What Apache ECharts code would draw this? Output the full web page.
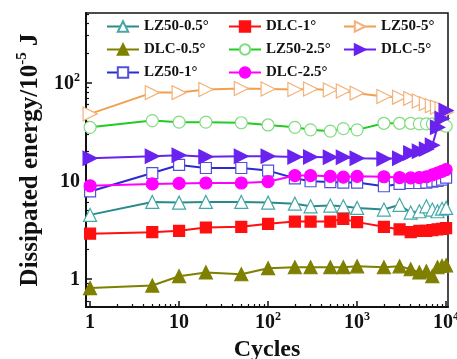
<!DOCTYPE html>
<html><head><meta charset="utf-8">
<script src="https://cdn.jsdelivr.net/npm/echarts@6/dist/echarts.min.js"></script>
<style>html,body{margin:0;padding:0;background:#fff}#c{width:457px;height:359px}</style>
</head><body><div id="c"></div>
<script>
var cycles = [1,5,10,20,50,100,200,300,500,700,1000,2000,3000,4000,5000,6000,7000,8000,9000,10000];
var names = ['LZ50-0.5°','DLC-0.5°','LZ50-1°','DLC-1°','LZ50-2.5°','DLC-2.5°','LZ50-5°','DLC-5°'];
var lz05 = [4.5,6.1,6.0,6.1,6.1,6.0,5.85,5.5,5.6,5.5,5.3,5.1,5.7,4.75,4.9,5.5,5.1,4.9,5.2,5.3];
var dlc05 = [0.81,0.86,1.07,1.17,1.12,1.29,1.32,1.32,1.32,1.32,1.35,1.32,1.35,1.26,1.17,1.2,1.07,1.32,1.36,1.38];
var lz1 = [7.8,12,14.5,13.5,13.5,12.7,10.6,9.9,9.7,9.6,9.6,8.8,9.3,9.5,9.5,9.6,9.8,10,10.3,10.8];
var dlc1 = [2.9,3.0,3.1,3.35,3.4,3.65,3.85,3.85,3.85,4.1,3.8,3.4,3.2,3.0,3.1,3.1,3.15,3.2,3.25,3.3];
var lz25 = [35,41,39.5,39.5,39,37,35,33,32,34,33,38.5,38.5,38.5,38,38,38,37.5,37,36];
var dlc25 = [8.9,9.3,9.4,9.5,9.5,9.8,11.3,11.3,11.1,10.9,11.1,11.0,10.8,10.7,10.8,11,11.5,12,12.5,13];
var lz5 = [48,79,79,85,87,86,85,86,84,82,78,72,71,69,65,61,58,56,54,50];
var dlc5 = [17,17.8,18.2,17.6,17.8,17.8,17.5,17.5,17.4,17.4,17,16.8,17,19.2,20,21,23,35,43,52];
var xMajor = [1,10,100,1000,10000];
var yMajor = [1,10,100];

function pairs(v){ return cycles.map(function(c,i){ return [c, v[i]]; }); }
function minorList(lo, hi){
  var out = [];
  for (var e = -1; e <= 4; e++) for (var m = 2; m <= 9; m++) {
    var v = m * Math.pow(10, e); if (v > lo && v < hi) out.push(v);
  }
  return out;
}
var F = "'Liberation Serif','Times New Roman',serif";
var rich = {
  n: {fontSize: 20, fontWeight: 'bold', fontFamily: F, color: '#111', lineHeight: 22, verticalAlign: 'bottom'},
  s: {fontSize: 12, fontWeight: 'bold', fontFamily: F, color: '#111', lineHeight: 12, verticalAlign: 'top'}
};
function powLabel(v){
  var e = Math.round(Math.log10(v));
  if (e === 0) return '{n|1}';
  if (e === 1) return '{n|10}';
  return '{n|10}{s|' + e + '}';
}
var XMIN = 0.9, XMAX = 10500, YMIN = 0.52, YMAX = 510;
var styles = [
  {d: lz05, sym: 'triangle', rot: 0, line: '#2a8a8a', fill: '#ffffff', border: '#45a8a8', size: 13},
  {d: dlc05, sym: 'triangle', rot: 0, line: '#7f7f00', fill: '#7f7f00', border: '#7f7f00', size: 13},
  {d: lz1, sym: 'rect', rot: 0, line: '#2b2bd0', fill: '#ffffff', border: '#5050d8', size: 11},
  {d: dlc1, sym: 'rect', rot: 0, line: '#ff1010', fill: '#ff1010', border: '#ff1010', size: 11},
  {d: lz25, sym: 'circle', rot: 0, line: '#22cc22', fill: '#ffffff', border: '#80dd80', size: 12},
  {d: dlc25, sym: 'circle', rot: 0, line: '#ff00ff', fill: '#ff00ff', border: '#ff00ff', size: 12},
  {d: lz5, sym: 'triangle', rot: -90, line: '#f0a050', fill: '#ffffff', border: '#f3b27a', size: 14},
  {d: dlc5, sym: 'triangle', rot: -90, line: '#6a22ee', fill: '#6a22ee', border: '#6a22ee', size: 14}
];
var series = styles.map(function(s, i){
  return {
    name: names[i], type: 'line', data: pairs(s.d), xAxisIndex: 0, yAxisIndex: 0,
    symbol: s.sym, symbolSize: s.size, symbolRotate: s.rot, showAllSymbol: true,
    lineStyle: {color: s.line, width: 2},
    itemStyle: {color: s.fill, borderColor: s.border, borderWidth: 1.2},
    emphasis: {disabled: true}
  };
});
var legendText = {fontSize: 15, fontWeight: 'bold', fontFamily: F, color: '#111'};
function legend(left, data){
  return {left: left, top: 19, orient: 'vertical', itemGap: 8, itemWidth: 32, itemHeight: 13,
    data: data, textStyle: legendText, selectedMode: false, padding: 0};
}
var axisLineStyle = {color: '#111', width: 2};
var option = {
  animation: false,
  grid: {left: 86, right: 9, top: 13, bottom: 52, show: true, borderColor: '#111', borderWidth: 1.5,
         backgroundColor: 'transparent', outerBoundsMode: 'none', containLabel: false},
  legend: [legend(106, names.slice(0,3)), legend(228, names.slice(3,6)), legend(343, names.slice(6,8))],
  xAxis: [
    {type: 'log', logBase: 10, min: XMIN, max: XMAX, position: 'bottom',
     name: 'Cycles', nameLocation: 'middle', nameGap: 31,
     nameTextStyle: {fontSize: 24, fontWeight: 'bold', fontFamily: F, color: '#111'},
     axisLine: {show: true, lineStyle: axisLineStyle},
     axisTick: {show: true, inside: true, length: 6, lineStyle: {color: '#111', width: 1.5}, customValues: xMajor},
     axisLabel: {customValues: xMajor, formatter: powLabel, rich: rich, margin: 4},
     splitLine: {show: false}, minorTick: {show: false}},
    {type: 'log', logBase: 10, min: XMIN, max: XMAX, position: 'bottom', gridIndex: 0,
     axisLine: {show: false},
     axisTick: {show: true, inside: true, length: 3, lineStyle: {color: '#111', width: 1.2}, customValues: minorList(XMIN, XMAX)},
     axisLabel: {show: false}, splitLine: {show: false}}
  ],
  yAxis: [
    {type: 'log', logBase: 10, min: YMIN, max: YMAX, position: 'left',
     name: '{a|Dissipated energy/10}{s|-5}{a| J}', nameLocation: 'middle', nameGap: 43, nameRotate: 90,
     nameTextStyle: {rich: {
       a: {fontSize: 25, fontWeight: 'bold', fontFamily: F, color: '#111', lineHeight: 28, verticalAlign: 'bottom'},
       s: {fontSize: 15, fontWeight: 'bold', fontFamily: F, color: '#111', lineHeight: 15, verticalAlign: 'top'}
     }},
     axisLine: {show: true, lineStyle: axisLineStyle},
     axisTick: {show: true, inside: true, length: 6, lineStyle: {color: '#111', width: 1.5}, customValues: yMajor},
     axisLabel: {customValues: yMajor, formatter: powLabel, rich: rich, margin: 6},
     splitLine: {show: false}, minorTick: {show: false}},
    {type: 'log', logBase: 10, min: YMIN, max: YMAX, position: 'left', gridIndex: 0,
     axisLine: {show: false},
     axisTick: {show: true, inside: true, length: 3, lineStyle: {color: '#111', width: 1.2}, customValues: minorList(YMIN, YMAX)},
     axisLabel: {show: false}, splitLine: {show: false}}
  ],
  series: series
};
var chart = echarts.init(document.getElementById('c'), null, {renderer: 'canvas'});
chart.setOption(option);
</script></body></html>
